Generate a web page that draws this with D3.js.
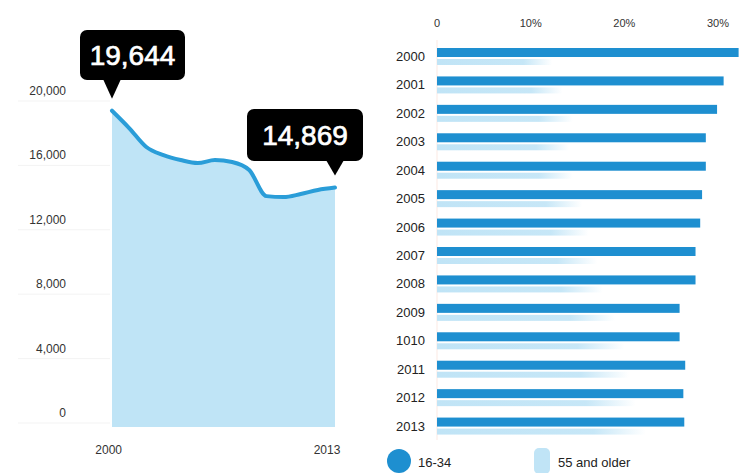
<!DOCTYPE html>
<html>
<head>
<meta charset="utf-8">
<script src="https://cdn.jsdelivr.net/npm/d3@7"></script>
<style>
  body { margin: 0; background: #fff; }
  text { font-family: "Liberation Sans", Arial, sans-serif; }
</style>
</head>
<body>
<svg width="739" height="473"></svg>
<script>
const years = [2000, 2001, 2002, 2003, 2004, 2005, 2006, 2007, 2008, 2009, 2010, 2011, 2012, 2013];
const totals = [19644, 18570, 17390, 16890, 16580, 16390, 16580, 16460, 15960, 14340, 14280, 14470, 14720, 14869];
const yTicks = [0, 4000, 8000, 12000, 16000, 20000];

const barLabels = ["2000", "2001", "2002", "2003", "2004", "2005", "2006", "2007", "2008", "2009", "1010", "2011", "2012", "2013"];
const young = [32.2, 30.6, 29.9, 28.7, 28.7, 28.3, 28.1, 27.6, 27.6, 25.9, 25.9, 26.5, 26.3, 26.4];
const older = [12.3, 13.4, 14.5, 14.1, 14.5, 15.5, 16.2, 17.1, 17.7, 19.0, 20.0, 20.5, 21.2, 22.3];
const pctTicks = [0, 10, 20, 30];
const legendLabels = ["16-34", "55 and older"];

const darkBlue = "#1e8fd0";
const lineBlue = "#2a9dd8";
const areaBlue = "#bfe4f6";
const lightBlue = "#c0e4f6";

const svg = d3.select("svg");

// ---- left: line / area chart
const x = d3.scaleLinear().domain([2000, 2013]).range([112, 335]);
const y = d3.scaleLinear().domain([0, 20000]).range([427, 105]);

const left = svg.append("g");

left.selectAll(".grid")
  .data(yTicks)
  .join("line")
  .attr("x1", 18).attr("x2", 110)
  .attr("y1", d => y(d) - 4).attr("y2", d => y(d) - 4)
  .attr("stroke", "#f3f3f3");

left.selectAll(".ylab")
  .data(yTicks)
  .join("text")
  .attr("x", 66)
  .attr("y", d => y(d) - 10)
  .attr("text-anchor", "end")
  .attr("font-size", 12)
  .attr("fill", "#333")
  .text(d3.format(","));

const pts = years.map((yr, i) => [yr, totals[i]]);

left.append("path")
  .datum(pts)
  .attr("fill", areaBlue)
  .attr("d", d3.area().curve(d3.curveMonotoneX)
    .x(d => x(d[0])).y0(y(0)).y1(d => y(d[1])));

left.append("path")
  .datum(pts)
  .attr("fill", "none")
  .attr("stroke", lineBlue)
  .attr("stroke-width", 4)
  .attr("stroke-linecap", "round")
  .attr("d", d3.line().curve(d3.curveMonotoneX)
    .x(d => x(d[0])).y(d => y(d[1])));

left.append("text")
  .attr("x", x(2000) + 10).attr("y", 454)
  .attr("text-anchor", "end")
  .attr("font-size", 12).attr("fill", "#333")
  .text(years[0]);

left.append("text")
  .attr("x", x(2013) - 8).attr("y", 454)
  .attr("text-anchor", "middle")
  .attr("font-size", 12).attr("fill", "#333")
  .text(years[years.length - 1]);

// callouts
function callout(i, bx, by, bw, bh) {
  const px = x(years[i]);
  const py = y(totals[i]) - 12;
  const c = left.append("g");
  c.append("rect")
    .attr("x", bx).attr("y", by)
    .attr("width", bw).attr("height", bh)
    .attr("rx", 7)
    .attr("fill", "#000");
  c.append("path")
    .attr("d", `M${px - 9},${by + bh - 1} L${px + 9},${by + bh - 1} L${px},${py} Z`)
    .attr("fill", "#000");
  c.append("text")
    .attr("x", bx + bw / 2)
    .attr("y", by + bh / 2 + 10)
    .attr("text-anchor", "middle")
    .attr("font-family", "Lato, 'Open Sans', sans-serif")
    .attr("font-size", 28)
    .attr("fill", "#fff")
    .attr("stroke", "#fff")
    .attr("stroke-width", 0.7)
    .text(d3.format(",")(totals[i]));
}
callout(0, 80, 30, 105, 50);
callout(totals.length - 1, 247, 109, 116, 52);

// ---- right: bar chart
const bx = d3.scaleLinear().domain([0, 30]).range([437, 718]);
const by = d3.scaleBand().domain(barLabels).range([44, 442]).paddingInner(0);

const right = svg.append("g");

const defs = svg.append("defs");
const grad = defs.append("linearGradient").attr("id", "fade");
grad.append("stop").attr("offset", "0%").attr("stop-color", lightBlue).attr("stop-opacity", 1);
grad.append("stop").attr("offset", "75%").attr("stop-color", lightBlue).attr("stop-opacity", 0.9);
grad.append("stop").attr("offset", "100%").attr("stop-color", lightBlue).attr("stop-opacity", 0);

right.selectAll(".xlab")
  .data(pctTicks)
  .join("text")
  .attr("x", d => bx(d))
  .attr("y", 27)
  .attr("text-anchor", "middle")
  .attr("font-size", 11)
  .attr("fill", "#333")
  .text(d => d === 0 ? "0" : d + "%");

right.append("line")
  .attr("x1", bx(0)).attr("x2", bx(0))
  .attr("y1", 40).attr("y2", 440)
  .attr("stroke", "#fbe9e3");

right.selectAll(".older")
  .data(older)
  .join("rect")
  .attr("x", bx(0))
  .attr("y", (d, i) => by(barLabels[i]) + 15)
  .attr("width", d => bx(d) - bx(0))
  .attr("height", 6)
  .attr("fill", "url(#fade)");

right.selectAll(".young")
  .data(young)
  .join("rect")
  .attr("x", bx(0))
  .attr("y", (d, i) => by(barLabels[i]) + 4)
  .attr("width", d => bx(d) - bx(0))
  .attr("height", 9)
  .attr("fill", darkBlue);

right.selectAll(".ylab")
  .data(barLabels)
  .join("text")
  .attr("x", 425)
  .attr("y", d => by(d) + 17)
  .attr("text-anchor", "end")
  .attr("font-size", 13)
  .attr("fill", "#222")
  .text(d => d);

// legend
const lg = svg.append("g");
lg.append("circle")
  .attr("cx", 399).attr("cy", 461).attr("r", 12)
  .attr("fill", darkBlue);
lg.append("text")
  .attr("x", 418).attr("y", 467)
  .attr("font-size", 13).attr("fill", "#222")
  .text(legendLabels[0]);
lg.append("rect")
  .attr("x", 534).attr("y", 448).attr("width", 16).attr("height", 26)
  .attr("rx", 5)
  .attr("fill", lightBlue);
lg.append("text")
  .attr("x", 558).attr("y", 467)
  .attr("font-size", 13).attr("fill", "#222")
  .text(legendLabels[1]);
</script>
</body>
</html>
